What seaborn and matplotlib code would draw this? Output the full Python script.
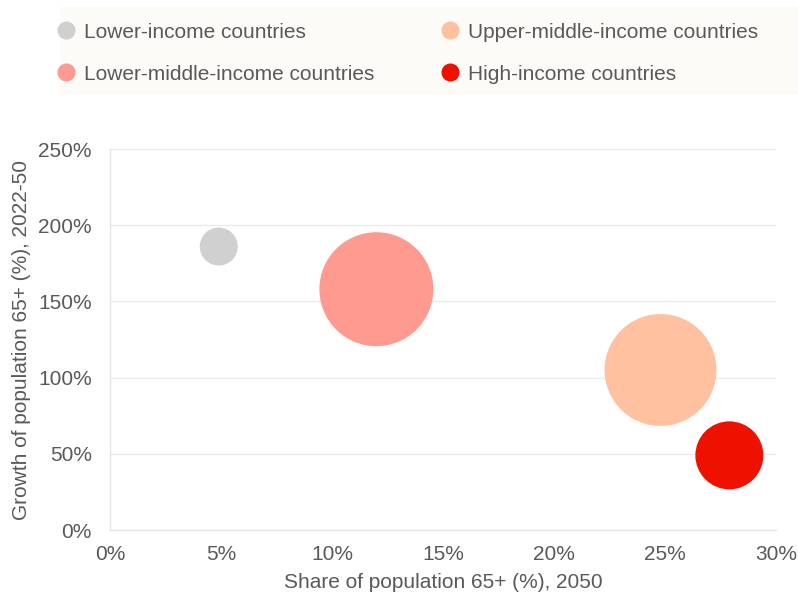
import matplotlib
matplotlib.use("Agg")
import matplotlib.pyplot as plt
from matplotlib.lines import Line2D
from matplotlib.patches import Rectangle
from matplotlib.ticker import FuncFormatter
import seaborn as sns
import pandas as pd

groups = ["Lower-income countries", "Lower-middle-income countries",
          "Upper-middle-income countries", "High-income countries"]
share_2050 = [4.9, 12.0, 24.8, 27.9]          # % of population 65+, 2050
growth_2022_50 = [186, 158, 105, 49]           # % growth of 65+ population
bubble_size = [40, 360, 347, 128]              # relative bubble size
colors = ["#D0D0D0", "#FF9A90", "#FFC1A0", "#EE1100"]

df = pd.DataFrame({"group": groups, "share": share_2050,
                   "growth": growth_2022_50, "size": bubble_size})

sns.set_style("white")
plt.rcParams["font.family"] = ["Liberation Sans", "DejaVu Sans"]

fig = plt.figure(figsize=(7.98, 6.06), dpi=100)
ax = fig.add_axes([0.1378, 0.1254, 0.8346, 0.6287])

sns.scatterplot(data=df, x="share", y="growth", hue="group", palette=colors,
                size="size", sizes=(0, 6737), size_norm=(0, 360),
                linewidth=0, alpha=1, legend=False, ax=ax, zorder=3)

ax.set_xlim(0, 30)
ax.set_ylim(0, 250)
ax.set_xticks([0, 5, 10, 15, 20, 25, 30])
ax.set_yticks([0, 50, 100, 150, 200, 250])
ax.xaxis.set_major_formatter(FuncFormatter(lambda v, p: f"{v:.0f}%"))
ax.yaxis.set_major_formatter(FuncFormatter(lambda v, p: f"{v:.0f}%"))
ax.yaxis.grid(True, color="#EBEBEB", linewidth=1)
ax.xaxis.grid(False)
ax.set_axisbelow(True)
for s in ["top", "right"]:
    ax.spines[s].set_visible(False)
for s in ["left", "bottom"]:
    ax.spines[s].set_color("#E6E6E6")
    ax.spines[s].set_linewidth(1)
ax.tick_params(axis="x", colors="#595959", labelsize=15, length=0, pad=10.5)
ax.tick_params(axis="y", colors="#595959", labelsize=15, length=0, pad=13)
ax.set_xlabel("Share of population 65+ (%), 2050", color="#595959", fontsize=15, labelpad=6.5)
ax.set_ylabel("Growth of population 65+ (%), 2022-50", color="#595959", fontsize=15, labelpad=5)

# legend background
fig.patches.append(Rectangle((60 / 798, 1 - 95 / 606), 738 / 798, 88 / 606,
                             transform=fig.transFigure, facecolor="#FDFBF7",
                             edgecolor="none", zorder=0))
handles = [Line2D([], [], marker="o", linestyle="none", markersize=13,
                  markerfacecolor=c, markeredgewidth=0) for c in colors]
fig.legend(handles, groups, ncol=2, loc="upper left",
           bbox_to_anchor=(37 / 798, 1 - 4 / 606), frameon=False,
           fontsize=15, labelcolor="#595959", handletextpad=0.35,
           columnspacing=3.15, labelspacing=1.1, handlelength=1.0)

fig.savefig("out.png", dpi=100)
